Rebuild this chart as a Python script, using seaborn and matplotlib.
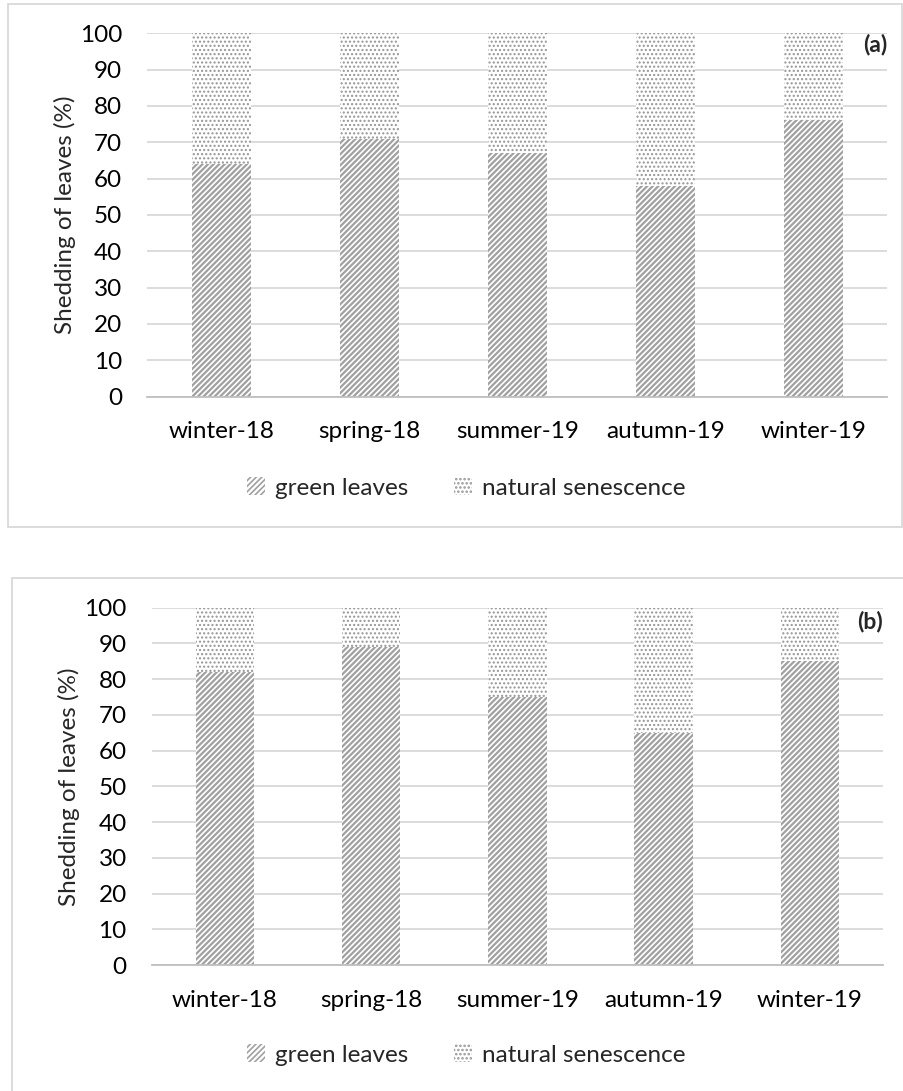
import matplotlib
matplotlib.use("Agg")
import matplotlib.pyplot as plt
from matplotlib.patches import Patch, Rectangle
import seaborn as sns

# Seasonal share of leaf shedding (%)
seasons = ["winter-18", "spring-18", "summer-19", "autumn-19", "winter-19"]
green_a = [64, 71, 67, 58, 76]
senescence_a = [36, 29, 33, 42, 24]
green_b = [82, 89, 75, 65, 85]
senescence_b = [18, 11, 25, 35, 15]
y_ticks = [0, 10, 20, 30, 40, 50, 60, 70, 80, 90, 100]

sns.set_theme(style="white")
plt.rcParams["font.family"] = ["Lato", "DejaVu Sans"]

W, H = 904, 1091
fig = plt.figure(figsize=(W / 100, H / 100), dpi=100)

GRID = "#d9d9d9"
HATCH = "#a0a0a0"
DOTS = "#959595"
FS = 17.5


def fx(px):
    return px / W


def fy(py):
    return 1 - py / H


def panel(box, frame, green, sen, tag, tag_dy, legend_y):
    left, top, right, bottom = box
    ax = fig.add_axes([fx(left), fy(bottom), fx(right) - fx(left), fy(top) - fy(bottom)])
    total = [g + s for g, s in zip(green, sen)]

    # stacked bars: full-height dotted bar behind, striped share in front
    plt.rcParams["hatch.linewidth"] = 1.0
    sns.barplot(x=seasons, y=total, color="white", saturation=1, edgecolor=DOTS,
                hatch="....", linewidth=0, width=0.4, ax=ax, zorder=2)
    plt.rcParams["hatch.linewidth"] = 1.6
    sns.barplot(x=seasons, y=green, color="white", saturation=1, edgecolor=HATCH,
                hatch="//////", linewidth=0, width=0.4, ax=ax, zorder=3)

    ax.set_xlim(-0.5, len(seasons) - 0.5)
    ax.set_ylim(0, 100)
    ax.set_yticks(y_ticks)
    ax.set_yticklabels([str(t) for t in y_ticks])
    ax.set_xticks(range(len(seasons)))
    ax.set_xticks([i - 0.5 for i in range(len(seasons) + 1)], minor=True)
    ax.tick_params(axis="x", which="major", length=0, pad=18, labelsize=FS, colors="black")
    ax.tick_params(axis="x", which="minor", length=6, width=1, color="#bfbfbf", direction="out")
    ax.tick_params(axis="y", length=0, pad=18, labelsize=FS, colors="black")
    ax.set_xlabel("")
    ax.set_ylabel("Shedding of leaves (%)", fontsize=FS, labelpad=3)
    ax.yaxis.grid(True, color=GRID, linewidth=1.3, zorder=0)
    ax.set_axisbelow(True)
    for s in ("top", "right", "left"):
        ax.spines[s].set_visible(False)
    ax.spines["bottom"].set_color("#bfbfbf")
    ax.spines["bottom"].set_linewidth(1.3)
    ax.spines["bottom"].set_zorder(4)

    ax.text(1.0, 1 + tag_dy / (bottom - top), tag, transform=ax.transAxes,
            ha="right", va="center", fontsize=FS - 1, fontweight="bold")

    fl, ft, fr, fb = frame
    fig.patches.append(Rectangle((fx(fl), fy(fb)), fx(fr) - fx(fl), fy(ft) - fy(fb),
                                 transform=fig.transFigure, fill=False,
                                 edgecolor=GRID, linewidth=1.3, zorder=0))

    plt.rcParams["hatch.linewidth"] = 1.2
    handles = [Patch(facecolor="white", edgecolor=HATCH, hatch="//////", linewidth=0,
                     label="green leaves"),
               Patch(facecolor="white", edgecolor=DOTS, hatch="....", linewidth=0,
                     label="natural senescence")]
    ax.legend(handles=handles, loc="center", bbox_to_anchor=(fx(466), fy(legend_y)),
              bbox_transform=fig.transFigure, ncol=2, frameon=False, fontsize=FS,
              handlelength=0.75, handleheight=0.75, handletextpad=0.4, columnspacing=1.9)
    return ax


panel((147.3, 33.3, 887.3, 396.5), (8, 4, 902, 527), green_a, senescence_a, "(a)", -11, 488)
panel((151.7, 607.7, 883, 965), (12, 578, 906, 1095), green_b, senescence_b, "(b)", -14, 1055)

fig.savefig("out.png", dpi=100)
